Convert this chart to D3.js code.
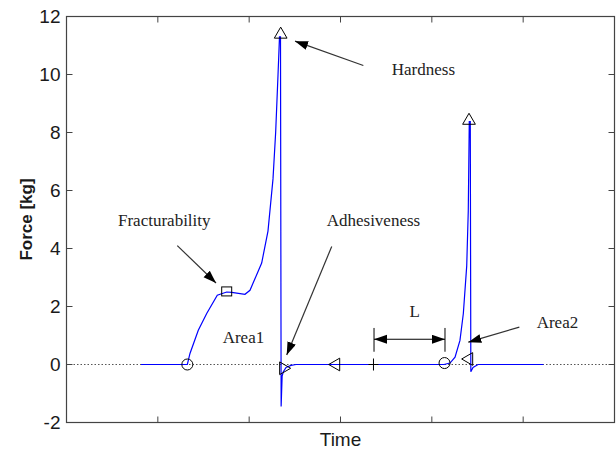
<html>
<head>
<meta charset="utf8">
<title>Force - Time</title>
<style>
  body { margin: 0; background: #fff; }
  .ticklabel { font-family: "Liberation Sans", Arial, sans-serif; font-size: 19px; fill: #1a1a1a; }
  .note { font-family: "Liberation Serif", "Times New Roman", serif; font-size: 17px; fill: #222; }
</style>
</head>
<body>
<svg width="616" height="449"></svg>
<script src="https://d3js.org/d3.v7.min.js"></script>
<script>
// curve (time in axis units, force in kg)
var time  = [0.816, 1.323, 1.352, 1.443, 1.535, 1.651, 1.754, 1.809, 1.954, 2.009, 2.042, 2.137, 2.206, 2.261, 2.290, 2.316, 2.332, 2.343, 2.350, 2.361, 2.374, 2.404, 2.458, 2.513,
             4.133, 4.199, 4.254, 4.308, 4.345, 4.382, 4.399, 4.410, 4.421, 4.427, 4.451, 4.506, 5.221];
var force = [0, 0, 0.38, 1.18, 1.76, 2.39, 2.5, 2.49, 2.42, 2.56, 2.8, 3.5, 4.6, 6.4, 8.0, 10.0, 11.3, 11.3, -1.45, -0.4, -0.25, -0.1, -0.03, 0,
             0, 0.05, 0.25, 0.83, 1.76, 3.4, 5.3, 8.38, 8.38, -0.25, -0.1, 0, 0];

// markers on the curve
var markT     = [1.323, 1.754, 2.345, 2.374, 2.951, 3.361, 4.139, 4.407, 4.407];
var markF     = [0, 2.52, 11.38, -0.13, 0, 0, 0.05, 8.41, 0.19];
var markShape = ["circle", "square", "up", "right", "left", "plus", "circle", "up", "left"];

// y ticks
var yTicks = [-2, 0, 2, 4, 6, 8, 10, 12];

// text notes: [label, t, f]
var noteText = ["Hardness", "Fracturability", "Adhesiveness", "Area1", "Area2", "L"];
var noteT    = [3.561, 0.564, 2.849, 1.710, 5.148, 3.755];
var noteF    = [10.0, 4.79, 4.79, 0.75, 1.26, 1.65];

// arrows: from (t1,f1) to (t2,f2)
var arrowT1 = [3.250, 1.213, 2.904, 4.958];
var arrowF1 = [10.31, 4.10, 4.07, 1.29];
var arrowT2 = [2.502, 1.637, 2.411, 4.399];
var arrowF2 = [11.15, 2.81, 0.33, 0.77];

// L dimension
var lStart = 3.367, lEnd = 4.144, lY = 0.87, lBarTop = 1.26, lBarBot = 0.44;

var svg = d3.select("svg");
var x = d3.scaleLinear().domain([0, 6]).range([66.5, 614.5]);
var y = d3.scaleLinear().domain([-2, 12]).range([422.5, 16.5]);

var defs = svg.append("defs");
defs.append("marker")
    .attr("id", "head")
    .attr("markerUnits", "userSpaceOnUse")
    .attr("markerWidth", 14).attr("markerHeight", 10)
    .attr("refX", 13).attr("refY", 4.5)
    .attr("orient", "auto-start-reverse")
    .append("path")
    .attr("d", "M0,0L13,4.5L0,9Z")
    .attr("fill", "#000");

// zero line
svg.append("line")
    .attr("x1", x(0)).attr("x2", x(6))
    .attr("y1", y(0)).attr("y2", y(0))
    .attr("stroke", "#555").attr("stroke-width", 1)
    .attr("stroke-dasharray", "1.5,2");

// curve
var pts = time.map(function(t, i) { return [t, force[i]]; });
svg.append("path")
    .datum(pts)
    .attr("d", d3.line().x(function(d) { return x(d[0]); }).y(function(d) { return y(d[1]); }))
    .attr("fill", "none")
    .attr("stroke", "#0000ff")
    .attr("stroke-width", 1.2);

// markers
var tri = d3.symbol().type(d3.symbolTriangle).size(70)();
var g = svg.append("g").attr("fill", "none").attr("stroke", "#000").attr("stroke-width", 1);
markT.forEach(function(t, i) {
    var cx = x(t), cy = y(markF[i]), s = markShape[i];
    if (s == "circle") {
        g.append("circle").attr("cx", cx).attr("cy", cy).attr("r", 5.5);
    } else if (s == "square") {
        g.append("rect").attr("x", cx - 5).attr("y", cy - 4.5).attr("width", 10).attr("height", 9);
    } else if (s == "plus") {
        g.append("path").attr("d", "M" + (cx - 5) + "," + cy + "h10M" + cx + "," + (cy - 6) + "v12");
    } else {
        var rot = s == "up" ? 0 : (s == "right" ? 90 : -90);
        g.append("path").attr("d", tri)
            .attr("transform", "translate(" + cx + "," + cy + ") rotate(" + rot + ")");
    }
});

// arrows
arrowT1.forEach(function(t, i) {
    svg.append("line")
        .attr("x1", x(t)).attr("y1", y(arrowF1[i]))
        .attr("x2", x(arrowT2[i])).attr("y2", y(arrowF2[i]))
        .attr("stroke", "#333").attr("stroke-width", 1.2)
        .attr("marker-end", "url(#head)");
});

// L dimension
svg.append("line")
    .attr("x1", x(lStart)).attr("x2", x(lEnd))
    .attr("y1", y(lY)).attr("y2", y(lY))
    .attr("stroke", "#000").attr("stroke-width", 1.2)
    .attr("marker-start", "url(#head)").attr("marker-end", "url(#head)");
[lStart, lEnd].forEach(function(t) {
    svg.append("line")
        .attr("x1", x(t)).attr("x2", x(t))
        .attr("y1", y(lBarTop)).attr("y2", y(lBarBot))
        .attr("stroke", "#000").attr("stroke-width", 1);
});

// notes
noteText.forEach(function(s, i) {
    svg.append("text").attr("class", "note")
        .attr("x", x(noteT[i])).attr("y", y(noteF[i]))
        .text(s);
});

// frame and ticks
var axisCol = "#444";
svg.append("rect")
    .attr("x", x(0)).attr("y", y(12))
    .attr("width", x(6) - x(0)).attr("height", y(-2) - y(12))
    .attr("fill", "none").attr("stroke", axisCol).attr("stroke-width", 1.2);

var tl = 6;
d3.range(1, 6).forEach(function(t) {
    svg.append("line").attr("x1", x(t)).attr("x2", x(t)).attr("y1", y(-2)).attr("y2", y(-2) - tl).attr("stroke", axisCol);
    svg.append("line").attr("x1", x(t)).attr("x2", x(t)).attr("y1", y(12)).attr("y2", y(12) + tl).attr("stroke", axisCol);
});
yTicks.forEach(function(v) {
    svg.append("line").attr("x1", x(0)).attr("x2", x(0) + tl).attr("y1", y(v)).attr("y2", y(v)).attr("stroke", axisCol);
    svg.append("line").attr("x1", x(6)).attr("x2", x(6) - tl).attr("y1", y(v)).attr("y2", y(v)).attr("stroke", axisCol);
    svg.append("text").attr("class", "ticklabel")
        .attr("x", x(0) - 6).attr("y", y(v)).attr("dy", "0.36em")
        .attr("text-anchor", "end")
        .text(v);
});

// axis titles
svg.append("text").attr("class", "ticklabel")
    .attr("x", x(3)).attr("y", 446)
    .attr("text-anchor", "middle")
    .text("Time");
svg.append("text").attr("class", "ticklabel")
    .attr("transform", "translate(32," + y(5) + ") rotate(-90)")
    .attr("text-anchor", "middle")
    .style("font-weight", "bold").style("font-size", "17px")
    .text("Force [kg]");
</script>
</body>
</html>
